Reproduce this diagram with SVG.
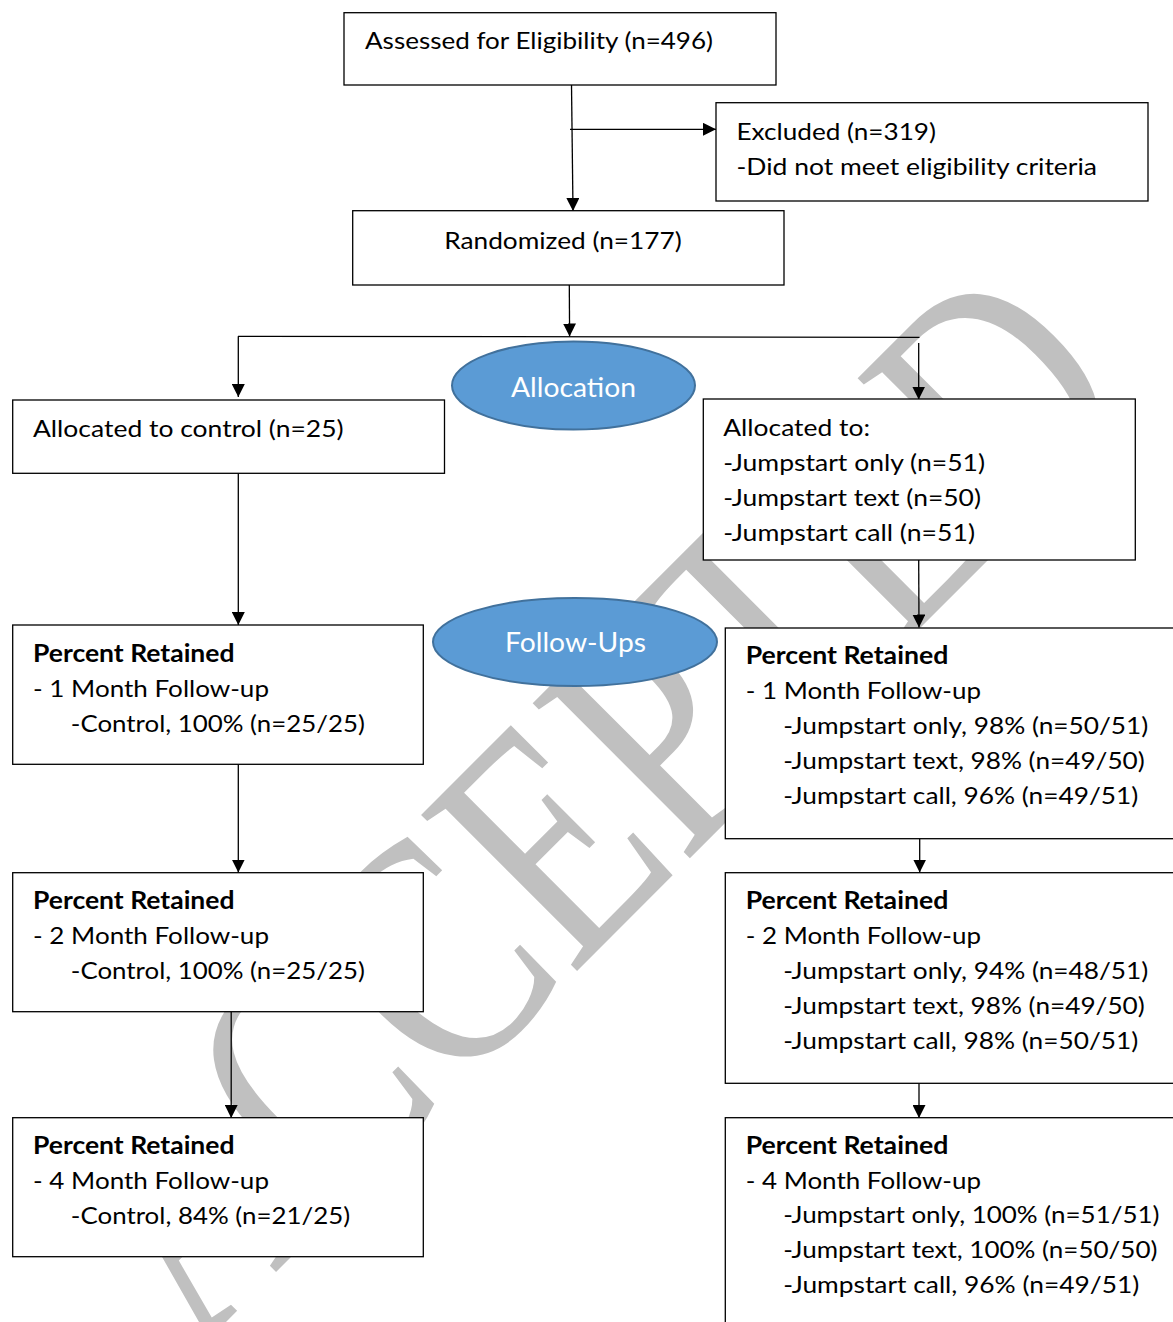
<svg xmlns="http://www.w3.org/2000/svg" width="1173" height="1322" viewBox="0 0 1173 1322">
<style>
.box{fill:#fff;stroke:#000;stroke-width:1.3}
.t{font-family:Lato,"Liberation Sans",sans-serif;font-size:24px;fill:#000}
.b{font-weight:bold}
.ell{fill:#5b9bd5;stroke:#41719c;stroke-width:2}
.et{font-family:Lato,"Liberation Sans",sans-serif;font-size:27px;fill:#fff;text-anchor:middle}
.c{stroke:#000;stroke-width:1.3;fill:none}
.wm{font-family:"Liberation Serif","Times New Roman",serif;font-size:337px;fill:#c0c0c0}
</style>
<defs>
<marker id="ah" markerUnits="userSpaceOnUse" markerWidth="14" markerHeight="13" refX="13" refY="6.5" orient="auto"><path d="M0,0 L13,6.5 L0,13 z" fill="#000"/></marker>
</defs>
<rect width="1173" height="1322" fill="#fff"/>
<g id="watermark">
<text class="wm" transform="translate(196,1352) rotate(-45) scale(0.767,1)">ACCEPTED</text>
</g>
<g id="connectors">
<line class="c" x1="571.5" y1="85" x2="573" y2="211" marker-end="url(#ah)"/>
<line class="c" x1="570" y1="129.3" x2="716" y2="129.3" marker-end="url(#ah)"/>
<line class="c" x1="569.3" y1="285" x2="569.6" y2="336.5" marker-end="url(#ah)"/>
<line class="c" x1="238" y1="336.3" x2="919.5" y2="337.3"/>
<line class="c" x1="238.3" y1="336.3" x2="238.3" y2="397" marker-end="url(#ah)"/>
<line class="c" x1="918.7" y1="343" x2="918.7" y2="399.5" marker-end="url(#ah)"/>
<line class="c" x1="238.3" y1="473.3" x2="238.3" y2="625" marker-end="url(#ah)"/>
<line class="c" x1="918.7" y1="560" x2="919" y2="627.5" marker-end="url(#ah)"/>
<line class="c" x1="238.3" y1="764.3" x2="238.3" y2="872.5" marker-end="url(#ah)"/>
<line class="c" x1="919.7" y1="838.7" x2="919.7" y2="872.5" marker-end="url(#ah)"/>
<line class="c" x1="231.2" y1="1011.7" x2="231.2" y2="1118" marker-end="url(#ah)"/>
<line class="c" x1="919" y1="1083.3" x2="919" y2="1118" marker-end="url(#ah)"/>
</g>
<g id="assessed">
<rect class="box" x="344" y="12.7" width="432" height="72.3"/>
<text class="t" x="365" y="49" textLength="348" lengthAdjust="spacingAndGlyphs">Assessed for Eligibility (n=496)</text>
</g>
<g id="excluded">
<rect class="box" x="716" y="102.7" width="432" height="98.3"/>
<text class="t" x="736.5" y="139.5" textLength="199.5" lengthAdjust="spacingAndGlyphs">Excluded (n=319)</text>
<text class="t" x="736.5" y="174.5" textLength="360.5" lengthAdjust="spacingAndGlyphs">-Did not meet eligibility criteria</text>
</g>
<g id="randomized">
<rect class="box" x="352.7" y="210.7" width="431.3" height="74.3"/>
<text class="t" x="444.3" y="249.3" textLength="237.4" lengthAdjust="spacingAndGlyphs">Randomized (n=177)</text>
</g>
<g id="allocation">
<ellipse class="ell" cx="573.5" cy="385.5" rx="121.5" ry="44"/>
<text class="et" x="573.5" y="396.5" textLength="125" lengthAdjust="spacingAndGlyphs">Allocation</text>
</g>
<g id="alloc-control">
<rect class="box" x="12.7" y="400" width="431.8" height="73.3"/>
<text class="t" x="33" y="436.7" textLength="310.6" lengthAdjust="spacingAndGlyphs">Allocated to control (n=25)</text>
</g>
<g id="alloc-jumpstart">
<rect class="box" x="703.3" y="399" width="432" height="161"/>
<text class="t" x="723.3" y="436" textLength="146.7" lengthAdjust="spacingAndGlyphs">Allocated to:</text>
<text class="t" x="723.3" y="471" textLength="261.7" lengthAdjust="spacingAndGlyphs">-Jumpstart only (n=51)</text>
<text class="t" x="723.3" y="506" textLength="257.7" lengthAdjust="spacingAndGlyphs">-Jumpstart text (n=50)</text>
<text class="t" x="723.3" y="541" textLength="251.7" lengthAdjust="spacingAndGlyphs">-Jumpstart call (n=51)</text>
</g>
<g id="followups">
<ellipse class="ell" cx="575" cy="642" rx="142" ry="44"/>
<text class="et" x="575.5" y="651.5" textLength="141" lengthAdjust="spacingAndGlyphs">Follow-Ups</text>
</g>
<g id="control-1m">
<rect class="box" x="12.7" y="625" width="410.6" height="139.3"/>
<text class="t b" x="33" y="661.7" textLength="201.5" lengthAdjust="spacingAndGlyphs">Percent Retained</text>
<text class="t" x="33" y="696.7" textLength="236" lengthAdjust="spacingAndGlyphs">- 1 Month Follow-up</text>
<text class="t" x="70.8" y="731.7" textLength="294" lengthAdjust="spacingAndGlyphs">-Control, 100% (n=25/25)</text>
</g>
<g id="control-2m">
<rect class="box" x="12.7" y="872.7" width="410.6" height="139"/>
<text class="t b" x="33" y="909.3" textLength="201.5" lengthAdjust="spacingAndGlyphs">Percent Retained</text>
<text class="t" x="33" y="944.3" textLength="236" lengthAdjust="spacingAndGlyphs">- 2 Month Follow-up</text>
<text class="t" x="70.8" y="979.3" textLength="294" lengthAdjust="spacingAndGlyphs">-Control, 100% (n=25/25)</text>
</g>
<g id="control-4m">
<rect class="box" x="12.7" y="1117.7" width="410.6" height="139"/>
<text class="t b" x="33" y="1154" textLength="201.5" lengthAdjust="spacingAndGlyphs">Percent Retained</text>
<text class="t" x="33" y="1188.7" textLength="236" lengthAdjust="spacingAndGlyphs">- 4 Month Follow-up</text>
<text class="t" x="70.8" y="1224" textLength="279.4" lengthAdjust="spacingAndGlyphs">-Control, 84% (n=21/25)</text>
</g>
<g id="jumpstart-1m">
<rect class="box" x="725.3" y="628" width="460" height="210.7"/>
<text class="t b" x="745.7" y="664" textLength="202.6" lengthAdjust="spacingAndGlyphs">Percent Retained</text>
<text class="t" x="745.7" y="699" textLength="235.3" lengthAdjust="spacingAndGlyphs">- 1 Month Follow-up</text>
<text class="t" x="783.3" y="734" textLength="365" lengthAdjust="spacingAndGlyphs">-Jumpstart only, 98% (n=50/51)</text>
<text class="t" x="783.3" y="768.7" textLength="361.5" lengthAdjust="spacingAndGlyphs">-Jumpstart text, 98% (n=49/50)</text>
<text class="t" x="783.3" y="803.5" textLength="355" lengthAdjust="spacingAndGlyphs">-Jumpstart call, 96% (n=49/51)</text>
</g>
<g id="jumpstart-2m">
<rect class="box" x="725.3" y="872.7" width="460" height="210.6"/>
<text class="t b" x="745.7" y="909" textLength="202.6" lengthAdjust="spacingAndGlyphs">Percent Retained</text>
<text class="t" x="745.7" y="944" textLength="235.3" lengthAdjust="spacingAndGlyphs">- 2 Month Follow-up</text>
<text class="t" x="783.3" y="979" textLength="365" lengthAdjust="spacingAndGlyphs">-Jumpstart only, 94% (n=48/51)</text>
<text class="t" x="783.3" y="1014" textLength="361.5" lengthAdjust="spacingAndGlyphs">-Jumpstart text, 98% (n=49/50)</text>
<text class="t" x="783.3" y="1049" textLength="355" lengthAdjust="spacingAndGlyphs">-Jumpstart call, 98% (n=50/51)</text>
</g>
<g id="jumpstart-4m">
<rect class="box" x="725.3" y="1117.7" width="460" height="230"/>
<text class="t b" x="745.7" y="1154.3" textLength="202.6" lengthAdjust="spacingAndGlyphs">Percent Retained</text>
<text class="t" x="745.7" y="1188.5" textLength="235.3" lengthAdjust="spacingAndGlyphs">- 4 Month Follow-up</text>
<text class="t" x="783.3" y="1223.3" textLength="376.2" lengthAdjust="spacingAndGlyphs">-Jumpstart only, 100% (n=51/51)</text>
<text class="t" x="783.3" y="1258.3" textLength="374.2" lengthAdjust="spacingAndGlyphs">-Jumpstart text, 100% (n=50/50)</text>
<text class="t" x="783.3" y="1293" textLength="356" lengthAdjust="spacingAndGlyphs">-Jumpstart call, 96% (n=49/51)</text>
</g>
</svg>
